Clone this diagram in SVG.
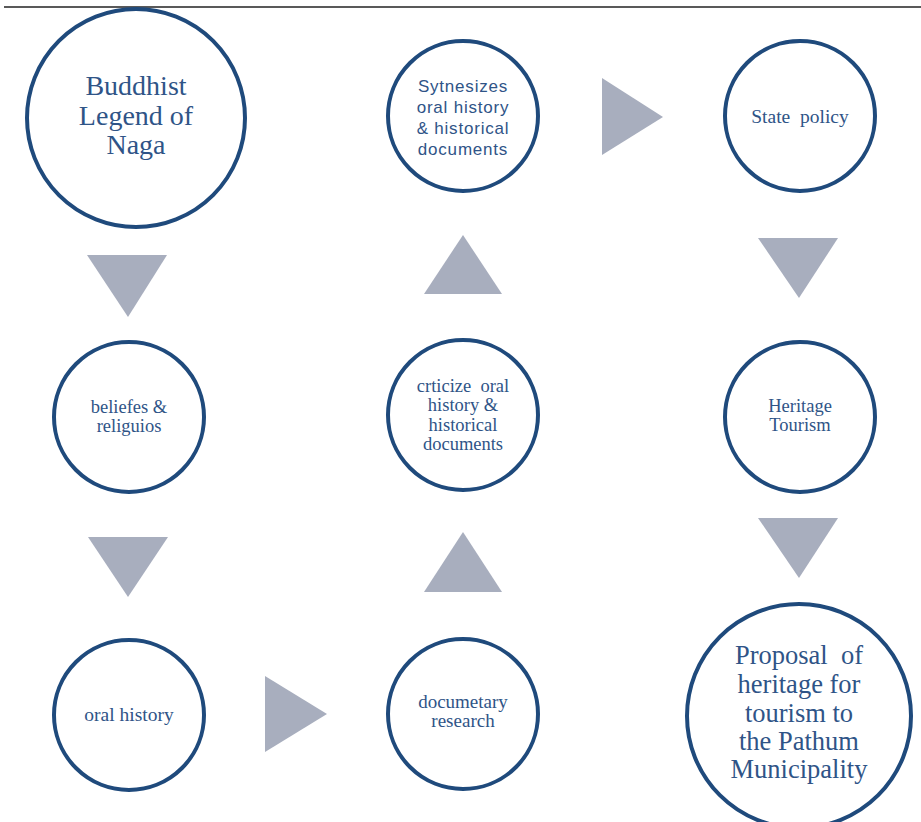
<svg xmlns="http://www.w3.org/2000/svg" width="921" height="822" viewBox="0 0 921 822">
<style>
.node circle{fill:#fff;stroke:#1F4A7C;stroke-width:4}
.t{font-family:"Liberation Serif",serif;fill:#2F5487;text-anchor:middle}
.s{font-family:"Liberation Sans",sans-serif;fill:#2F5487;text-anchor:middle;letter-spacing:0.8px}
.arr polygon{fill:#A8AEBE}
</style>
<rect width="921" height="822" fill="#fff"/>
<line x1="4" y1="7" x2="921" y2="7" stroke="#222" stroke-width="1.6"/>
<g id="connectors" class="arr">
<polygon points="87,255 167,255 128,317"/>
<polygon points="88,537 168,537 128,597"/>
<polygon points="265,676 265,752 327,714"/>
<polygon points="424,592 502,592 463,532"/>
<polygon points="424,294 502,294 463,235"/>
<polygon points="602,78 602,155 663,117"/>
<polygon points="758,238 838,238 799,298"/>
<polygon points="758,518 838,518 799,578"/>
</g>
<g id="n1" class="node"><circle cx="136" cy="118" r="109"/>
<text class="t" font-size="28"><tspan x="136" y="95">Buddhist</tspan><tspan x="136" y="125">Legend of</tspan><tspan x="136" y="154">Naga</tspan></text></g>
<g id="n2" class="node"><circle cx="463" cy="116" r="75"/>
<text class="s" font-size="17"><tspan x="463" y="92">Sytnesizes</tspan><tspan x="463" y="113">oral history</tspan><tspan x="463" y="134">&amp; historical</tspan><tspan x="463" y="155">documents</tspan></text></g>
<g id="n3" class="node"><circle cx="800" cy="116" r="75"/>
<text class="t" font-size="19.5" xml:space="preserve"><tspan x="800" y="123">State  policy</tspan></text></g>
<g id="n4" class="node"><circle cx="129" cy="417" r="75"/>
<text class="t" font-size="18.5"><tspan x="129" y="413">beliefes &amp;</tspan><tspan x="129" y="432">religuios</tspan></text></g>
<g id="n5" class="node"><circle cx="463" cy="415" r="75"/>
<text class="t" font-size="18.5" xml:space="preserve"><tspan x="463" y="392">crticize  oral</tspan><tspan x="463" y="411">history &amp;</tspan><tspan x="463" y="431">historical</tspan><tspan x="463" y="450">documents</tspan></text></g>
<g id="n6" class="node"><circle cx="800" cy="417" r="75"/>
<text class="t" font-size="18.5"><tspan x="800" y="412">Heritage</tspan><tspan x="800" y="431">Tourism</tspan></text></g>
<g id="n7" class="node"><circle cx="129" cy="715" r="75"/>
<text class="t" font-size="19.5"><tspan x="129" y="721">oral history</tspan></text></g>
<g id="n8" class="node"><circle cx="463" cy="714" r="75"/>
<text class="t" font-size="19"><tspan x="463" y="708">documetary</tspan><tspan x="463" y="727">research</tspan></text></g>
<g id="n9" class="node"><circle cx="799" cy="716" r="112"/>
<text class="t" font-size="26.5" xml:space="preserve"><tspan x="799" y="664">Proposal  of</tspan><tspan x="799" y="693">heritage for</tspan><tspan x="799" y="722">tourism to</tspan><tspan x="799" y="750">the Pathum</tspan><tspan x="799" y="778">Municipality</tspan></text></g>
</svg>
